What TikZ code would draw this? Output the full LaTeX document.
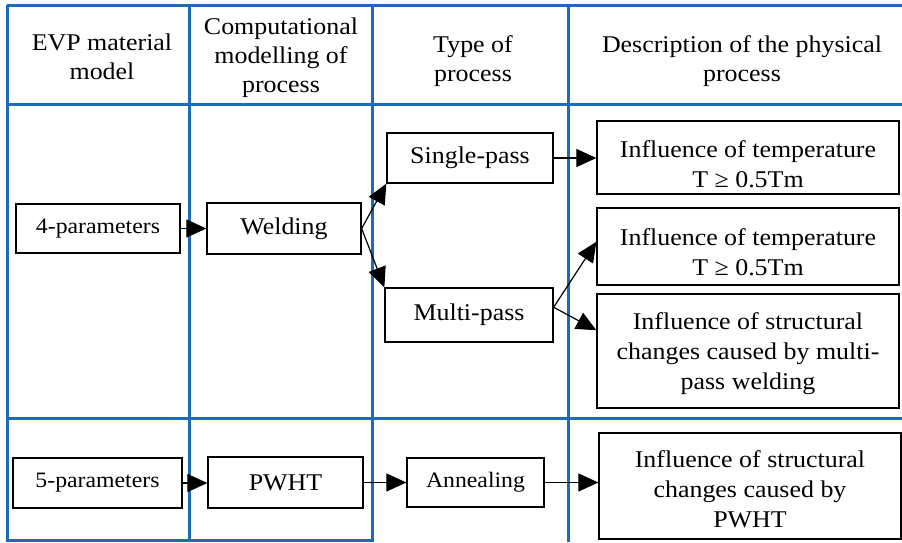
\documentclass[tikz,border=0pt]{standalone}
\usepackage{fontspec}
\setmainfont{Liberation Serif}[FakeStretch=1.08]
\usetikzlibrary{arrows.meta,calc}
\definecolor{gridblue}{RGB}{30,106,180}
\begin{document}
\begin{tikzpicture}[x=1pt,y=-1pt,
  grid/.style={draw=gridblue,line width=3pt},
  box/.style={draw=black,line width=1.3pt,inner sep=0pt,fill=white},
  txt/.style={font=\fontsize{24}{30}\selectfont,align=center,inner sep=0pt},
  smalltxt/.style={font=\fontsize{22}{26}\selectfont},
  hdr/.style={font=\fontsize{24}{29}\selectfont,align=center,inner sep=0pt},
  conn/.style={draw=black,line width=1.2pt,-{Triangle[length=20pt,width=18pt]}},
]
\useasboundingbox (0,0) rectangle (902,542);
% table grid
\draw[grid] (7,5) -- (902,5);
\draw[grid] (7,104) -- (902,104);
\draw[grid] (7,418) -- (902,418);
\draw[grid] (7,540.5) -- (372,540.5);
\foreach \x in {7,189,372,568} \draw[grid] (\x,5) -- (\x,542);
% header
\node[hdr] (h1) at (102,57) {EVP material\\model};
\node[hdr] (h2) at (281,58) {Computational\\modelling of\\process};
\node[hdr] (h3) at (473,61) {Type of\\process};
\node[hdr] (h4) at (742,61) {Description of the physical\\process};
% welding row
\node[box,txt,smalltxt,minimum width=164pt,minimum height=49pt] (p4) at (98,228.5) {4-parameters};
\node[box,txt,minimum width=154pt,minimum height=51pt] (weld) at (284,228.5) {Welding};
\node[box,txt,minimum width=166pt,minimum height=50pt] (single) at (470,158) {Single-pass};
\node[box,txt,minimum width=168pt,minimum height=54pt] (multi) at (469,315) {Multi-pass};
\node[box,minimum width=302pt,minimum height=73pt] (t1) at (748,157.5) {};
\node[txt] (t1text) at (748,164) {Influence of temperature\\T ≥ 0.5Tm};
\node[box,minimum width=302pt,minimum height=77pt] (t2) at (748,246.5) {};
\node[txt] (t2text) at (748,252.5) {Influence of temperature\\T ≥ 0.5Tm};
\node[box,minimum width=302pt,minimum height=114pt] (s1) at (748,351) {};
\node[txt] (s1text) at (748,353.4) {Influence of structural\\changes caused by multi-\\pass welding};
% PWHT row
\node[box,txt,smalltxt,minimum width=169pt,minimum height=50pt] (p5) at (97.5,483) {5-parameters};
\node[box,txt,minimum width=155pt,minimum height=51pt] (pwht) at (285.5,482.5) {PWHT};
\node[box,txt,smalltxt,minimum width=137pt,minimum height=49pt] (anneal) at (475.5,482.5) {Annealing};
\node[box,minimum width=302pt,minimum height=106pt] (s2) at (750,486) {};
\node[txt] (s2text) at (750,489) {Influence of structural\\changes caused by\\PWHT};
% connectors
\draw[conn] (p4.east) -- (weld.west);
\draw[conn] (weld.east) -- (single.south west);
\draw[conn] (weld.east) -- (multi.north west);
\draw[conn] (single.east) -- (single.east -| t1.west);
\coordinate (mstart) at ($(multi.north east)!0.36!(multi.south east)$);
\draw[conn] (mstart) -- ($(t2.north west)!0.44!(t2.south west)$);
\draw[conn] (mstart) -- ($(s1.north west)!0.32!(s1.south west)$);
\draw[conn] (p5.east) -- (p5.east -| pwht.west);
\draw[conn] (pwht.east) -- (anneal.west);
\draw[conn] (anneal.east) -- (anneal.east -| s2.west);
\end{tikzpicture}
\end{document}
